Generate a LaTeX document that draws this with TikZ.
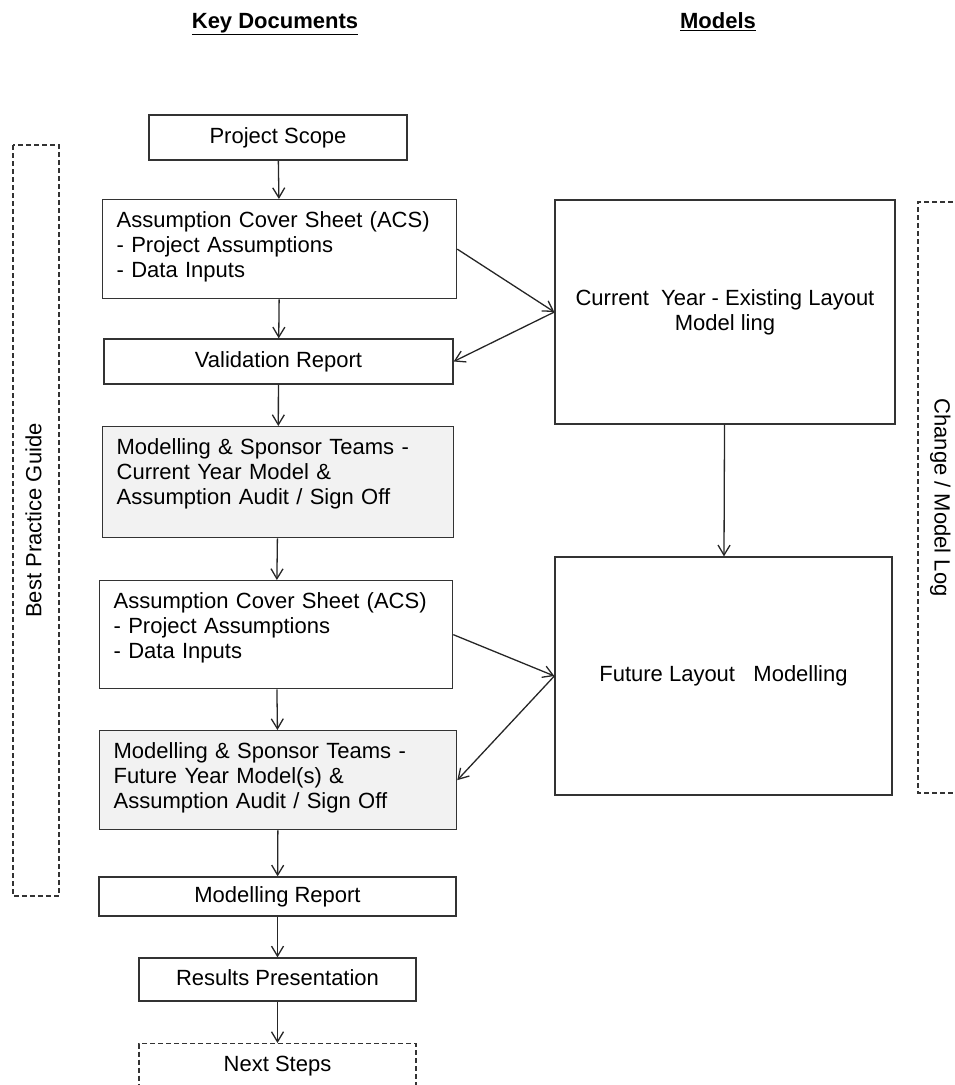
\documentclass[tikz,border=0pt]{standalone}
\usepackage{fontspec}
\setmainfont{Liberation Sans}
\usetikzlibrary{arrows.meta,positioning}

\begin{document}
\begin{tikzpicture}[x=1pt,y=-1pt,line width=1.3pt,>={Straight Barb[length=10pt,width=12pt]}]
    \tikzset{box/.style={draw=black!80,rectangle,inner sep=0pt,font=\fontsize{22}{25}\selectfont}}
    \tikzset{oneline/.style={box,text height=16pt,text depth=5pt}}
    \tikzset{leftbox/.style={box,anchor=north west,align=left,inner xsep=14pt,inner ysep=10pt,text height=18pt}}
    \tikzset{dashbox/.style={dash pattern=on 5pt off 3pt}}
    \tikzset{signoff/.style={fill=black!5}}
    \tikzset{heading/.style={font=\fontsize{22}{25}\selectfont\bfseries,text height=16pt,text depth=5pt}}
    \useasboundingbox (0,0) rectangle (955,1085);
    % headings
    \node[heading] (kd) at (275,23) {\underline{Key Documents}};
    \node[heading] (mdl) at (718,23) {\underline{Models}};
    % key documents column
    \node[oneline,minimum width=258pt,minimum height=45pt] (ps) at (278,137.5) {Project Scope};
    \node[leftbox,text width=326pt,text depth=61pt] (acs1) at (102,199) {Assumption Cover Sheet (ACS)\\- Project Assumptions\\- Data Inputs};
    \node[oneline,minimum width=349pt,minimum height=45pt] (vr) at (278.5,361.5) {Validation Report};
    \node[leftbox,signoff,text width=323pt,text depth=73pt] (mst1) at (102,426) {Modelling \& Sponsor Teams -\\Current Year Model \&\\Assumption Audit / Sign Off};
    \node[leftbox,text width=325pt,text depth=70pt] (acs2) at (99,580) {Assumption Cover Sheet (ACS)\\- Project Assumptions\\- Data Inputs};
    \node[leftbox,signoff,text width=329pt,text depth=61pt] (mst2) at (99,730) {Modelling \& Sponsor Teams -\\Future Year Model(s) \&\\Assumption Audit / Sign Off};
    \node[oneline,minimum width=357pt,minimum height=39pt] (mr) at (277.5,896.5) {Modelling Report};
    \node[oneline,minimum width=277pt,minimum height=43pt] (rp) at (277.5,979.5) {Results Presentation};
    \node[box,dashbox,anchor=north,minimum width=277pt,inner ysep=10pt,text height=18pt,text depth=40pt] (ns) at (277.5,1043) {Next Steps};
    % models column
    \node[box,align=center,minimum width=340pt,minimum height=224pt] (cy) at (725,312) {Current~ Year - Existing Layout\\Model ling};
    \node[oneline,minimum width=337pt,minimum height=238pt] (fl) at (723.5,676) {Future Layout~~ Modelling};
    % side bars
    \node[oneline,dashbox,rotate=90,minimum width=751pt,minimum height=46pt] (bpg) at (36,520.5) {Best Practice Guide};
    \node[oneline,dashbox,rotate=-90,minimum width=591pt,minimum height=44pt] (cml) at (940,497.5) {Change / Model Log};
    \path[->,black!85]
    (ps) edge (acs1)
    (acs1) edge (vr)
    (vr) edge (mst1)
    (mst1) edge (acs2)
    (acs2) edge (mst2)
    (mst2) edge (mr)
    (mr) edge (rp)
    (rp) edge (ns)
    (acs1.east) edge (cy.west)
    (cy.west) edge (vr.east)
    (cy) edge (fl)
    (acs2.east) edge (fl.west)
    (fl.west) edge (mst2.east)
    ;
\end{tikzpicture}
\end{document}
